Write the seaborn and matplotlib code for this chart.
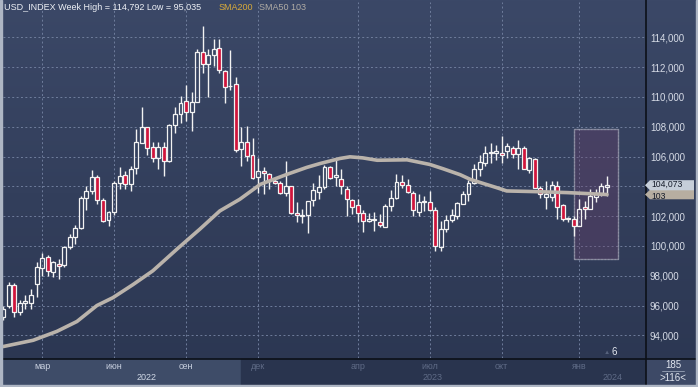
import numpy as np
import pandas as pd
import seaborn as sns
import matplotlib.pyplot as plt
import matplotlib.transforms as mtransforms
from matplotlib.patches import Rectangle, Polygon
from matplotlib.colors import LinearSegmentedColormap

# weekly candles, index 0 = first (half hidden) week
opens = [95.25, 96.00, 97.40, 95.60, 96.15, 96.20, 97.45, 98.55, 99.25, 98.25,
         98.80, 98.70, 99.90, 100.60, 101.20, 103.20, 103.70, 104.60, 103.10, 101.75,
         102.25, 104.20, 104.78, 104.13, 105.25, 106.90, 108.00, 106.64, 105.90, 106.64,
         105.69, 108.13, 108.84, 109.73, 108.96, 109.69, 113.02, 112.18, 112.80, 113.30,
         111.76, 110.70, 110.84, 106.50, 106.96, 106.07, 104.64, 105.02, 104.80, 104.36,
         104.24, 103.52, 104.02, 102.24, 102.00, 102.07, 103.10, 103.62, 103.96, 105.31,
         104.60, 104.47, 103.84, 103.07, 102.73, 102.18, 101.69, 101.72, 101.62, 101.30,
         102.69, 103.24, 104.29, 104.07, 103.58, 102.29, 102.96, 102.98, 102.40, 99.96,
         101.13, 101.73, 102.02, 102.84, 103.47, 104.24, 105.18, 105.58, 106.24, 106.24,
         106.24, 106.36, 106.60, 106.18, 106.58, 105.09, 105.84, 103.91, 103.31, 103.31,
         104.02, 102.73, 101.87, 101.84, 101.36, 102.58, 102.51, 103.31, 103.58, 103.98]
highs = [95.95, 97.55, 97.50, 96.35, 96.70, 97.10, 98.90, 99.50, 99.40, 99.00,
         99.10, 100.00, 100.80, 101.40, 103.35, 104.00, 105.10, 104.75, 103.20, 102.35,
         104.35, 105.30, 105.00, 105.36, 107.85, 109.30, 108.00, 107.00, 106.96, 106.96,
         108.20, 109.30, 110.07, 110.80, 110.36, 113.24, 114.79, 113.24, 113.90, 113.90,
         111.80, 113.18, 111.35, 108.00, 108.07, 107.24, 105.88, 105.30, 104.90, 104.47,
         104.35, 105.72, 104.05, 102.96, 102.50, 103.02, 104.24, 104.73, 105.40, 105.36,
         105.91, 105.18, 104.02, 103.18, 103.13, 102.40, 102.24, 102.30, 102.13, 102.80,
         103.73, 104.80, 104.73, 104.47, 103.69, 103.47, 103.36, 103.69, 102.64, 101.69,
         102.07, 102.47, 102.96, 103.69, 104.40, 105.47, 106.13, 106.69, 106.91, 106.80,
         107.40, 106.91, 106.69, 107.13, 106.69, 105.98, 105.90, 104.00, 104.36, 104.36,
         104.36, 102.80, 101.95, 102.00, 103.13, 103.02, 103.80, 103.80, 104.24, 104.69]
lows = [95.04, 95.85, 95.25, 95.35, 95.80, 95.75, 96.60, 98.00, 98.00, 97.90,
        97.80, 98.60, 99.80, 100.10, 101.15, 102.40, 103.50, 102.80, 101.60, 101.35,
        102.10, 103.80, 103.80, 103.70, 104.80, 106.90, 106.07, 105.60, 105.13, 104.69,
        105.60, 107.58, 108.24, 108.36, 107.69, 109.69, 111.58, 110.00, 112.07, 111.58,
        109.58, 110.47, 106.29, 105.36, 105.69, 104.51, 103.58, 103.50, 103.85, 104.13,
        103.47, 103.36, 102.13, 101.58, 101.55, 100.87, 102.69, 103.13, 103.80, 104.50,
        104.02, 103.47, 101.98, 102.13, 101.62, 100.91, 101.58, 101.02, 101.30, 101.24,
        102.36, 103.13, 103.90, 103.53, 102.02, 101.98, 102.36, 102.36, 99.69, 99.69,
        100.91, 101.58, 101.80, 102.80, 103.02, 104.13, 104.69, 105.36, 105.58, 105.80,
        105.58, 105.90, 105.90, 105.13, 105.13, 104.90, 103.90, 103.20, 102.47, 103.02,
        101.80, 101.70, 101.60, 100.69, 101.36, 101.80, 102.47, 102.96, 103.36, 103.36]
closes = [95.80, 97.40, 95.60, 96.20, 96.30, 96.70, 98.60, 99.20, 98.30, 98.90,
          98.65, 99.90, 100.60, 101.20, 103.25, 103.70, 104.65, 103.10, 101.70, 102.25,
          104.25, 104.70, 104.13, 105.18, 106.96, 108.00, 106.60, 105.90, 106.64, 105.69,
          108.13, 108.84, 109.62, 108.96, 109.69, 113.02, 112.18, 112.80, 113.24, 111.80,
          110.69, 110.75, 106.47, 106.96, 106.02, 104.58, 105.05, 104.87, 104.36, 104.24,
          103.58, 104.02, 102.24, 102.07, 102.10, 103.02, 103.73, 103.96, 105.31, 104.58,
          104.73, 104.02, 103.18, 102.64, 102.18, 101.69, 101.80, 101.80, 101.40, 102.69,
          103.24, 104.29, 104.11, 103.62, 102.42, 102.96, 102.98, 102.38, 100.02, 101.13,
          101.73, 102.09, 102.91, 103.47, 104.20, 105.13, 105.64, 106.24, 106.30, 106.36,
          106.13, 106.69, 106.18, 106.58, 105.18, 105.91, 103.91, 103.47, 103.47, 104.07,
          102.64, 101.80, 101.80, 101.36, 102.51, 102.47, 103.36, 103.47, 104.02, 104.073]

# SMA50 line, points (week index, value)
sma_idx = [0, 5.4, 9.7, 13.3, 16.9, 19.8, 23.4, 27.0, 31.4, 35.5, 39.1, 42.7, 46.4,
           51.2, 54.8, 57.2, 60.8, 62.6, 64.9, 67.5, 72.9, 77.0, 79.4, 82.5, 84.3,
           86.6, 89.1, 90.9, 95.6, 101.8, 109]
sma_val = [93.25, 93.67, 94.27, 94.93, 96.0, 96.53, 97.4, 98.33, 99.8, 101.13, 102.35,
           103.13, 104.13, 104.8, 105.27, 105.53, 105.87, 105.98, 105.91, 105.75, 105.78,
           105.47, 105.18, 104.78, 104.47, 104.2, 103.91, 103.69, 103.65, 103.58, 103.45]

month_idx = [7, 20, 33, 46, 64, 77, 90, 104]
month_labels = ['мар', 'июн', 'сен', 'дек', 'апр', 'июл', 'окт', 'янв']
year_idx = [25.9, 77.6, 110.1]
year_labels = ['2022', '2023', '2024']
price_ticks = list(range(94, 115, 2))
zone = (103.05, 111.0, 99.15, 107.85)  # highlighted box: x0, x1, y0, y1

W, H = 698, 387


def fx(p):
    return p / W


def fy(p):
    return 1 - p / H


def comma(v, nd=3):
    return f'{v:.{nd}f}'.replace('.', ',')


sns.set_style('dark')
plt.rcParams['font.family'] = ['Liberation Sans', 'DejaVu Sans']

fig = plt.figure(figsize=(W / 100, H / 100), dpi=100)

# background gradient
bg = fig.add_axes([0, 0, 1, 1], zorder=-5)
cm = LinearSegmentedColormap.from_list('bg', ['#3b4867', '#2b3651'])
bg.imshow(np.linspace(0, 1, 256)[:, None], cmap=cm, aspect='auto', extent=[0, 1, 0, 1])
bg.axis('off')

ax = fig.add_axes([fx(3), fy(358), fx(645) - fx(3), fy(2) - fy(358)])
ax.set_facecolor('none')
for s in ax.spines.values():
    s.set_visible(False)

df = pd.DataFrame({'o': opens, 'h': highs, 'l': lows, 'c': closes})
df['x'] = np.arange(len(df))
df['lo'] = df[['o', 'c']].min(axis=1)
df['hi'] = df[['o', 'c']].max(axis=1)
up = df['c'] >= df['o']

ax.add_patch(Rectangle((zone[0], zone[2]), zone[1] - zone[0], zone[3] - zone[2],
                       facecolor='#6b3f6b', alpha=0.35, zorder=1))
ax.add_patch(Rectangle((zone[0], zone[2]), zone[1] - zone[0], zone[3] - zone[2],
                       facecolor='none', edgecolor='#8d90a4', ls=(0, (1.5, 1.5)), lw=0.8, zorder=1))

ax.vlines(df['x'], df['l'], df['lo'], color='#f2f2f2', lw=1, zorder=3)
ax.vlines(df['x'], df['hi'], df['h'], color='#f2f2f2', lw=1, zorder=3)
ax.bar(df['x'], (df['hi'] - df['lo']).clip(lower=0.03), bottom=df['lo'], width=0.72,
       color=np.where(up, 'none', '#d0153c'), edgecolor='#f2f2f2', linewidth=0.9, zorder=3)

sns.lineplot(x=sma_idx, y=sma_val, ax=ax, color='#bab3ab', lw=2.6, zorder=4)

ax.set_xlim(-0.05, 115.87)
ax.set_ylim(92.48, 116.37)

# the 104 label sits under the last-price tag, so it is not shown
ax.yaxis.tick_right()
ax.set_yticks(price_ticks)
ax.set_yticklabels(['' if v == 104 else comma(v) for v in price_ticks])
ax.tick_params(axis='y', length=0, pad=3.6, labelsize=7, labelcolor='#d6dbe6')
ax.set_xticks(month_idx)
ax.set_xticklabels(month_labels)
ax.tick_params(axis='x', length=0, pad=3, labelsize=6.5)
for i, lbl in enumerate(ax.get_xticklabels()):
    lbl.set_color('#c9d1e0' if i < 3 else '#5f6b86')
ax.grid(True, color='#6f7d9c', ls=(0, (2, 2.5)), lw=0.7)

# bottom strip and right panel
fig.add_artist(Rectangle((fx(3), fy(385)), fx(241) - fx(3), fy(359) - fy(385),
                         transform=fig.transFigure, color='#3e4c68', zorder=-1))
fig.add_artist(Rectangle((fx(241), fy(385)), fx(645) - fx(241), fy(359) - fy(385),
                         transform=fig.transFigure, color='#29344e', zorder=-1))
fig.add_artist(Rectangle((fx(646), fy(385)), fx(696) - fx(646), fy(359) - fy(385),
                         transform=fig.transFigure, color='#3d4966', zorder=-1))
fig.add_artist(plt.Line2D([fx(0), fx(698)], [fy(358.5), fy(358.5)], color='#0c1018', lw=1.2))
fig.add_artist(plt.Line2D([fx(645.5), fx(645.5)], [fy(0), fy(386)], color='#0c1018', lw=1.2))
for x0, y0, w, h in [(0, 0, 2, 387), (696, 0, 2, 387), (0, 385, 698, 2)]:
    fig.add_artist(Rectangle((fx(x0), fy(y0 + h)), w / W, h / H,
                             transform=fig.transFigure, color='#aeb6c4', zorder=5))

ytr = mtransforms.blended_transform_factory(ax.transData, fig.transFigure)
for x, lab, col in zip(year_idx, year_labels, ['#d0d8e6', '#5f6b86', '#5f6b86']):
    ax.text(x, fy(378), lab, transform=ytr, ha='center', va='center', fontsize=6.5,
            color=col)

# header
fig.text(fx(4), fy(8), 'USD_INDEX Week High = 114,792 Low = 95,035', color='#eef1f6',
         fontsize=6.5, va='center')
fig.text(fx(219), fy(8), 'SMA200', color='#d9ab3a', fontsize=6.5, va='center')
fig.text(fx(259), fy(8), 'SMA50 103', color='#b0aca5', fontsize=6.5, va='center')

# price tags on the right axis
tr = mtransforms.blended_transform_factory(fig.transFigure, ax.transData)


def tag(y, text, face, hh, dy):
    pts = [(fx(645), y), (fx(650), y + hh), (fx(694), y + hh), (fx(694), y - hh),
           (fx(650), y - hh)]
    fig.add_artist(Polygon(pts, closed=True, transform=tr, facecolor=face,
                           edgecolor='none', zorder=6))
    ttr = mtransforms.offset_copy(tr, fig=fig, x=0, y=dy, units='points')
    fig.text(fx(651), y, text, transform=ttr, fontsize=6.2, color='#161c2a',
             va='center', zorder=7)


tag(sma_val[-1], comma(sma_val[-1], 0), '#b7aea1', 0.32, -1.2)
tag(closes[-1], comma(closes[-1]), '#c6ced9', 0.34, 1.0)

fig.text(fx(607), fy(353), '▲', color='#56627c', fontsize=4.5, ha='center', va='center')
fig.text(fx(614), fy(352), '6', color='#e4e8ef', fontsize=7, ha='center', va='center')

fig.text(fx(673), fy(365), '185', color='#e0e5ee', fontsize=7, ha='center', va='center')
fig.add_artist(plt.Line2D([fx(662), fx(684)], [fy(371), fy(371)], color='#9aa4b8', lw=0.6))
fig.text(fx(673), fy(378), '>116<', color='#e0e5ee', fontsize=7, ha='center',
         va='center')

fig.savefig('out.png', dpi=100)
